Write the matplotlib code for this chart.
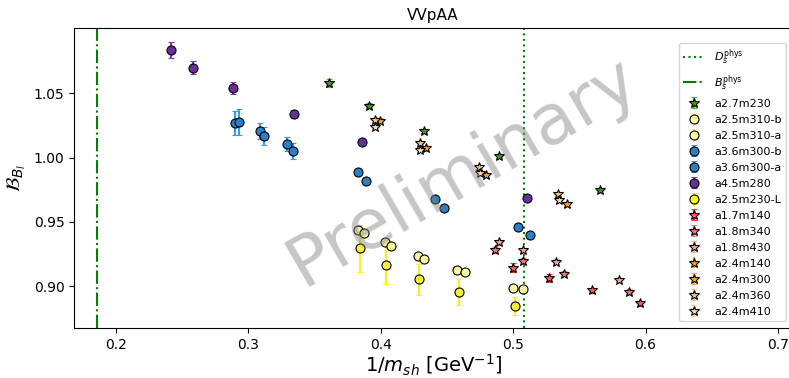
import numpy as np
import matplotlib
matplotlib.use("Agg")
import matplotlib.pyplot as plt

# physical points
x_Ds = 0.5079
x_Bs = 0.1863

# a2.7m230 (green stars)
x_a27m230 = [0.361, 0.3916, 0.4331, 0.489, 0.5652]
y_a27m230 = [1.0576, 1.0402, 1.0205, 1.0010, 0.9751]
e_a27m230 = [0.0030, 0.0020, 0.0018, 0.0015, 0.0015]

# a2.5m310-b / -a (pale yellow circles)
x_a25m310b = [0.3831, 0.4035, 0.4282, 0.4578, 0.5001]
y_a25m310b = [0.9439, 0.9343, 0.9237, 0.9128, 0.8984]
e_a25m310b = [0.0025, 0.0022, 0.0020, 0.0020, 0.0020]
x_a25m310a = [0.3878, 0.4080, 0.4331, 0.4639, 0.5074]
y_a25m310a = [0.9413, 0.9315, 0.9213, 0.9114, 0.8982]
e_a25m310a = [0.0035, 0.0030, 0.0028, 0.0028, 0.0028]

# a3.6m300-b / -a (blue circles)
x_a36m300b = [0.2904, 0.3091, 0.3297, 0.3831, 0.4414, 0.5036]
y_a36m300b = [1.0269, 1.0205, 1.0106, 0.9888, 0.9675, 0.9457]
e_a36m300b = [0.0093, 0.0062, 0.0055, 0.0025, 0.0018, 0.0015]
x_a36m300a = [0.2933, 0.3121, 0.3335, 0.3886, 0.4480, 0.5129]
y_a36m300a = [1.0275, 1.0168, 1.0051, 0.9815, 0.9611, 0.9400]
e_a36m300a = [0.0099, 0.0070, 0.0062, 0.0020, 0.0015, 0.0015]

# a4.5m280 (purple circles)
x_a45m280 = [0.2419, 0.2586, 0.2888, 0.3348, 0.3861, 0.5107]
y_a45m280 = [1.0836, 1.0696, 1.0540, 1.0337, 1.0119, 0.9683]
e_a45m280 = [0.0060, 0.0050, 0.0045, 0.0030, 0.0015, 0.0015]

# a2.5m230-L (yellow circles)
x_a25m230L = [0.3841, 0.4037, 0.4289, 0.4588, 0.5011]
y_a25m230L = [0.9294, 0.9164, 0.9055, 0.8959, 0.8850]
e_a25m230L = [0.0184, 0.0146, 0.0121, 0.0101, 0.0070]

# a1.7m140, a1.8m340, a1.8m430 (red / pink stars)
x_a17m140 = [0.4998, 0.5270, 0.5595, 0.5959]
y_a17m140 = [0.9143, 0.9062, 0.8969, 0.8868]
e_a17m140 = [0.0035, 0.0030, 0.0020, 0.0020]
x_a18m340 = [0.4863, 0.5078, 0.5386, 0.5877]
y_a18m340 = [0.9283, 0.9195, 0.9099, 0.8959]
e_a18m340 = [0.0025, 0.0022, 0.0020, 0.0020]
x_a18m430 = [0.4897, 0.5074, 0.5325, 0.5799]
y_a18m430 = [0.9343, 0.9278, 0.9192, 0.9050]
e_a18m430 = [0.0020, 0.0020, 0.0018, 0.0018]

# a2.4 ensembles (orange stars)
x_a24m140 = []
y_a24m140 = []
e_a24m140 = []
x_a24m300 = [0.3997, 0.4345, 0.4799, 0.5403]
y_a24m300 = [1.0285, 1.0070, 0.9862, 0.9639]
e_a24m300 = [0.0020, 0.0018, 0.0015, 0.0015]
x_a24m360 = [0.3954, 0.4297, 0.4744, 0.5335]
y_a24m360 = [1.0290, 1.0114, 0.9927, 0.9714]
e_a24m360 = [0.0018, 0.0016, 0.0015, 0.0015]
x_a24m410 = [0.3959, 0.4299, 0.4752, 0.5343]
y_a24m410 = [1.0238, 1.0062, 0.9880, 0.9673]
e_a24m410 = [0.0018, 0.0016, 0.0015, 0.0015]

series = [
    ("a2.7m230", x_a27m230, y_a27m230, e_a27m230, "*", "#3c9a1c", "#44c020"),
    ("a2.5m310-b", x_a25m310b, y_a25m310b, e_a25m310b, "o", "#fbf7a0", "#fbf7a0"),
    ("a2.5m310-a", x_a25m310a, y_a25m310a, e_a25m310a, "o", "#fbf7a0", "#f3eda0"),
    ("a3.6m300-b", x_a36m300b, y_a36m300b, e_a36m300b, "o", "#2a7fc6", "#3a9be0"),
    ("a3.6m300-a", x_a36m300a, y_a36m300a, e_a36m300a, "o", "#2a7fc6", "#3a9be0"),
    ("a4.5m280", x_a45m280, y_a45m280, e_a45m280, "o", "#66309a", "#7a40b0"),
    ("a2.5m230-L", x_a25m230L, y_a25m230L, e_a25m230L, "o", "#f7ef3a", "#f7ef20"),
    ("a1.7m140", x_a17m140, y_a17m140, e_a17m140, "*", "#f06060", "#f03030"),
    ("a1.8m340", x_a18m340, y_a18m340, e_a18m340, "*", "#ec7878", "#f08080"),
    ("a1.8m430", x_a18m430, y_a18m430, e_a18m430, "*", "#f2a0a0", "#f4b0b0"),
    ("a2.4m140", x_a24m140, y_a24m140, e_a24m140, "*", "#ff9900", "#ffa000"),
    ("a2.4m300", x_a24m300, y_a24m300, e_a24m300, "*", "#f4a030", "#f8b040"),
    ("a2.4m360", x_a24m360, y_a24m360, e_a24m360, "*", "#f4c080", "#f8c890"),
    ("a2.4m410", x_a24m410, y_a24m410, e_a24m410, "*", "#f6d8a8", "#f8dcb0"),
]

fig = plt.figure(figsize=(7.89, 3.78), dpi=100)
ax = fig.add_axes((0.094, 0.132, 0.91, 0.794))

ax.axvline(x_Ds, color="green", linestyle=":", linewidth=1.5, label=r"$D_s^{\rm phys}$")
ax.axvline(x_Bs, color="green", linestyle="-.", linewidth=1.5, label=r"$B_s^{\rm phys}$")

for name, xs, ys, es, mk, fc, ec in series:
    ms = 7.5 if mk == "*" else 6.5
    ax.errorbar(xs, ys, yerr=es, fmt=mk, markersize=ms, markerfacecolor=fc,
                markeredgecolor="black", markeredgewidth=0.8, ecolor=ec,
                elinewidth=1.6, capsize=2, label=name)

ax.text(0.54, 0.52, "Preliminary", transform=ax.transAxes, fontsize=50,
        color="grey", alpha=0.45, rotation=30, ha="center", va="center")

ax.set_xlim(0.1687, 0.7106)
ax.set_ylim(0.8675, 1.1006)
ax.set_xticks([0.2, 0.3, 0.4, 0.5, 0.6, 0.7])
ax.set_yticks([0.90, 0.95, 1.00, 1.05])
ax.set_title("VVpAA", fontsize=11)
ax.set_xlabel(r"1/$m_{sh}$ [GeV$^{-1}$]", fontsize=14, labelpad=1)
ax.set_ylabel(r"$\mathcal{B}_{B_l}$", fontsize=14)
ax.legend(loc="upper right", bbox_to_anchor=(0.9916, 0.95), borderaxespad=0,
          fontsize=8, labelspacing=0.54)

fig.savefig("out.png", dpi=100)
